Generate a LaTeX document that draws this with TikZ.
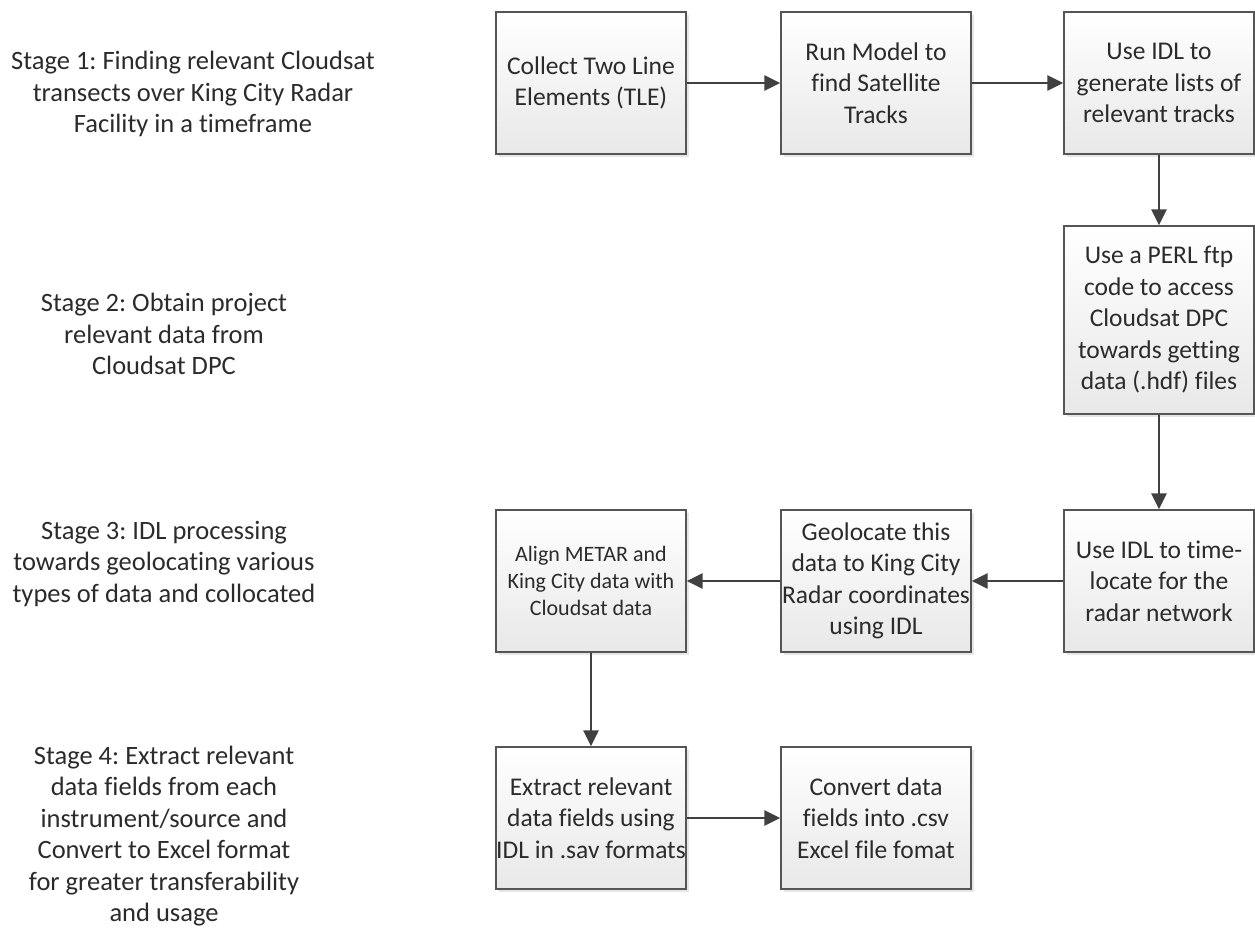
\documentclass[tikz,border=0pt]{standalone}
\usepackage{fontspec}
\setmainfont{Carlito}[Ligatures=NoCommon]
\usetikzlibrary{arrows.meta,shadows}
\definecolor{boxline}{HTML}{555555}
\definecolor{arrowcol}{HTML}{404040}
\definecolor{txtcol}{HTML}{2B2B2B}
\frenchspacing
\begin{document}
\begin{tikzpicture}[x=1pt,y=-1pt,
  stepbox/.style={draw=boxline,line width=1.4pt,top color=white,bottom color=black!9,
    minimum width=190pt,minimum height=142pt,inner sep=0pt,align=center,
    font=\fontsize{25.5}{31.5}\selectfont,text=txtcol,
    drop shadow={shadow xshift=3pt,shadow yshift=-3pt,opacity=0.2}},
  stage/.style={align=center,font=\fontsize{26.5}{31.5}\selectfont,text=txtcol},
  flow/.style={line width=2.8pt,draw=arrowcol,-{Triangle[length=16pt,width=15pt]}}]
\useasboundingbox (0,0) rectangle (1255,927);
\node[stage] (stageone) at (193,94) {Stage 1: Finding relevant Cloudsat\\transects over King City Radar\\Facility in a timeframe};
\node[stage] (stagetwo) at (164,334) {Stage 2: Obtain project\\relevant data from\\Cloudsat DPC};
\node[stage] (stagethree) at (164,564) {Stage 3: IDL processing\\towards geolocating various\\types of data and collocated};
\node[stage] (stagefour) at (164,836) {Stage 4: Extract relevant\\data fields from each\\instrument/source and\\Convert to Excel format\\for greater transferability\\and usage};
\node[stepbox] (tle) at (591,83) {Collect Two Line\\Elements (TLE)};
\node[stepbox] (model) at (876,83) {Run Model to\\find Satellite\\Tracks};
\node[stepbox] (lists) at (1159,83) {Use IDL to\\generate lists of\\relevant tracks};
\node[stepbox,minimum height=188pt] (perl) at (1159,320) {Use a PERL ftp\\code to access\\Cloudsat DPC\\towards getting\\data (.hdf) files};
\node[stepbox] (timeloc) at (1159,581) {Use IDL to time-\\locate for the\\radar network};
\node[stepbox] (geoloc) at (876,581) {Geolocate this\\data to King City\\Radar coordinates\\using IDL};
\node[stepbox,font=\fontsize{22}{27}\selectfont] (align) at (591,581) {Align METAR and\\King City data with\\Cloudsat data};
\node[stepbox] (extract) at (591,818) {Extract relevant\\data fields using\\IDL in .sav formats};
\node[stepbox] (convert) at (876,818) {Convert data\\fields into .csv\\Excel file fomat};
\draw[flow] (tle) -- (model);
\draw[flow] (model) -- (lists);
\draw[flow] (lists) -- (perl);
\draw[flow] (perl) -- (timeloc);
\draw[flow] (timeloc) -- (geoloc);
\draw[flow] (geoloc) -- (align);
\draw[flow] (align) -- (extract);
\draw[flow] (extract) -- (convert);
\end{tikzpicture}
\end{document}
